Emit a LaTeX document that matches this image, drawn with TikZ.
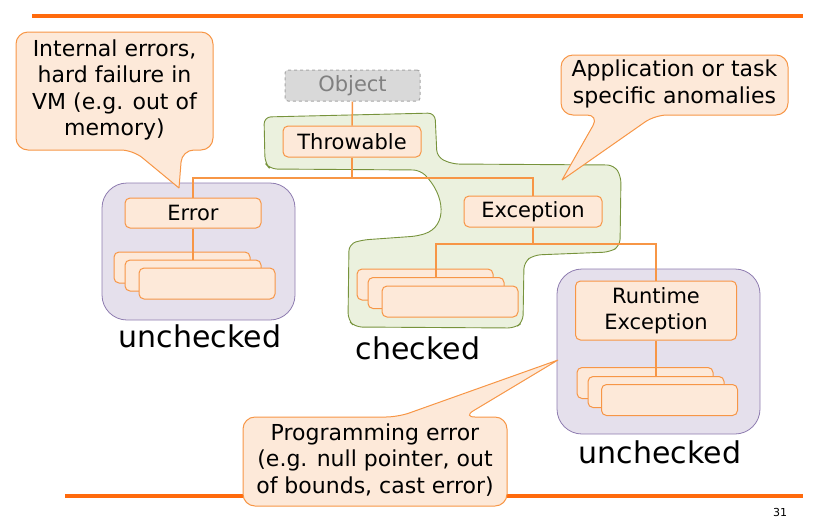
\documentclass[tikz,border=0pt]{standalone}
\usepackage{fontspec}
\setmainfont{DejaVu Sans}
\usepackage{xcolor}

\definecolor{rulecol}{HTML}{FF6A0D}
\definecolor{boxline}{HTML}{F79646}
\definecolor{boxfill}{HTML}{FDE9D9}
\definecolor{purpline}{HTML}{8E7CB0}
\definecolor{purpfill}{HTML}{E5E0EC}
\definecolor{greenline}{HTML}{77933C}
\definecolor{greenfill}{HTML}{EBF1DE}
\definecolor{objline}{HTML}{A6A6A6}
\definecolor{objfill}{HTML}{D9D9D9}
\definecolor{objtext}{HTML}{808080}

\begin{document}
\begin{tikzpicture}[x=1pt, y=-1pt,
    main/.style = {draw=boxline, fill=boxfill, rounded corners=5pt, line width=1pt, minimum width=136pt, minimum height=31pt, inner sep=0pt, font=\fontsize{21}{26}\selectfont},
    group/.style = {draw=purpline, fill=purpfill, rounded corners=25pt, line width=0.8pt, inner sep=0pt},
    link/.style = {draw=boxline, line width=1.5pt},
    bubble/.style = {draw=boxline, fill=boxfill, line width=1pt, rounded corners=12pt},
    txt/.style = {font=\fontsize{22}{26.5}\selectfont, align=center, inner sep=0pt},
    tag/.style = {font=\fontsize{30}{34}\selectfont, inner sep=0pt}]

    \useasboundingbox (0,0) rectangle (818,523);

    % slide rules
    \draw[rulecol, line width=3.5pt] (32,16) -- (803,16);
    \draw[rulecol, line width=3.5pt] (65,496) -- (803,496);
    \node[font=\fontsize{11}{13}\selectfont] (pg) at (780,512) {31};

    % checked area
    \draw[draw=greenline, fill=greenfill, line width=0.9pt, rounded corners=7pt]
        (264,117) -- (435,113) -- (437,157) -- (452,164) -- (614,165) -- (621,176)
        -- (620,246) -- (610,252) -- (534,255) -- (524,262) -- (523,322) -- (515,328)
        -- (355,327) -- (348,320) -- (349,244) -- (362,240) -- (418,236)
        .. controls (448,226) and (445,195) .. (420,170) -- (270,169) -- (265,163) -- cycle;

    % unchecked areas
    \node[group, minimum width=193pt, minimum height=137pt] (ugrp) at (198.5,251.5) {};
    \node[group, minimum width=203pt, minimum height=165pt] (rgrp) at (658.5,351.5) {};

    \node[main, draw=objline, fill=objfill, dashed, text=objtext, minimum width=135pt, rounded corners=3pt] (obj) at (352.5,85.5) {Object};
    \node[main, minimum width=138pt] (thr) at (352,141.5) {Throwable};
    \node[main, minimum height=30pt] (err) at (193,213) {Error};
    \node[main, minimum width=138pt] (exc) at (533,211.5) {Exception};
    \node[main, minimum width=161pt, minimum height=59pt, align=center] (rte) at (656,310.5) {Runtime\\Exception};

    \node[main] (e1) at (182,267.5) {};
    \node[main] (e2) at (193,275.5) {};
    \node[main] (e3) at (207,283.5) {};

    \node[main] (c1) at (425,284.5) {};
    \node[main] (c2) at (436,293) {};
    \node[main] (c3) at (450,301.5) {};

    \node[main] (r1) at (645,383) {};
    \node[main] (r2) at (656,392) {};
    \node[main] (r3) at (669.5,400) {};

    \draw[link] (obj) -- (thr);
    \draw[link] (thr.south) -- ++(0,20.5) -| (err.north);
    \draw[link] (thr.south) -- ++(0,20.5) -| (exc.north);
    \draw[link] (exc.south) -- ++(0,16.5) -| (c2.north);
    \draw[link] (exc.south) -- ++(0,16.5) -| (rte.north);
    \draw[link] (err.south) -- (e2.north);
    \draw[link] (rte.south) -- (r2.north);

    \node[tag] (lbl1) at (200,336) {unchecked};
    \node[tag] (lbl2) at (418,348) {checked};
    \node[tag] (lbl3) at (660,452) {unchecked};

    % callouts
    \draw[bubble] (179,188) -- (182,150) -- (213,150) -- (213,32) -- (16,32) -- (16,150) -- (133,150) -- (179,188);
    \node[txt] (note1) at (114.5,90) {Internal errors,\\hard failure in\\VM (e.g. out of\\memory)};

    \draw[bubble] (562,180) -- (655,115) -- (788,115) -- (788,55) -- (561,55) -- (561,115) -- (599,115) -- (562,180);
    \node[txt] (note2) at (674.5,84) {Application or task\\specific anomalies};

    \draw[bubble] (558,360) -- (463,417) -- (507,417) -- (507,506) -- (243,506) -- (243,417) -- (398,417) -- (558,360);
    \node[txt] (note3) at (375,460) {Programming error\\(e.g. null pointer, out\\of bounds, cast error)};
\end{tikzpicture}
\end{document}
